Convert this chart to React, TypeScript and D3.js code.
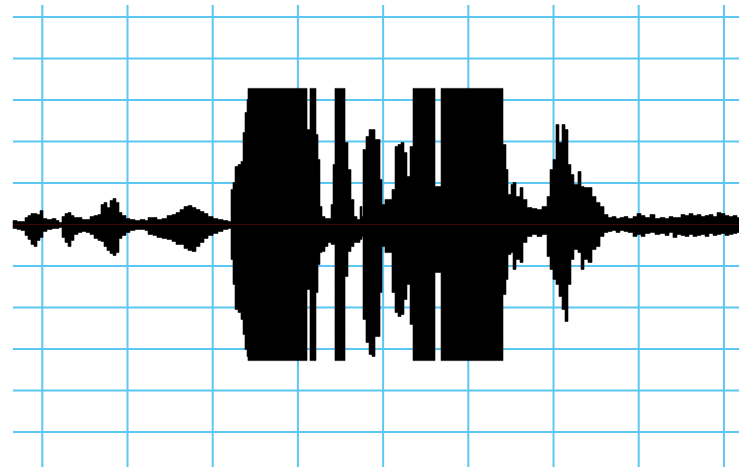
import React from 'react';
import * as d3 from 'd3';

// Sample times (ms) of envelope breakpoints
const timesMs = [
  -34.4, -29.7, -25.0, -20.3, -16.8, -13.3, -9.7, -6.2, -2.7, 0.8,
  5.5, 11.4, 16.1, 19.6, 23.1, 26.6, 30.2, 33.7, 37.2, 41.9,
  46.6, 51.3, 56.0, 60.7, 65.4, 68.9, 72.4, 75.9, 79.5, 83.0,
  86.5, 90.0, 93.5, 98.2, 102.9, 108.8, 114.7, 120.5, 124.1, 129.9,
  134.6, 140.5, 146.4, 152.2, 156.9, 161.6, 166.3, 171.0, 175.7, 180.4,
  185.1, 189.8, 194.5, 200.4, 206.2, 212.1, 218.0, 221.5, 223.8, 226.2,
  229.7, 233.2, 235.6, 237.9, 240.3, 241.4, 310.7, 314.2, 321.2, 323.6,
  325.9, 328.3, 331.8, 335.3, 338.9, 341.2, 343.5, 355.3, 358.8, 362.3,
  365.8, 369.4, 372.9, 375.2, 376.4, 379.9, 383.5, 387.0, 390.5, 396.4,
  398.7, 402.2, 406.9, 410.4, 414.0, 417.5, 421.0, 424.5, 428.0, 431.6,
  435.1, 460.9, 468.0, 540.7, 544.2, 546.6, 550.1, 552.5, 556.0, 560.7,
  564.2, 568.9, 574.8, 580.6, 586.5, 592.4, 595.9, 599.4, 602.9, 606.4,
  610.0, 613.5, 617.0, 620.5, 624.0, 628.7, 632.3, 635.8, 640.5, 645.2,
  649.9, 654.6, 659.3,
  664.0, 668.7, 673.4, 678.0, 682.7, 687.4, 693.3, 698.0, 702.7, 707.4,
  713.2, 719.1, 725.0, 730.9, 735.6, 740.2, 744.9, 749.6, 754.3, 759.0,
  763.7, 768.4, 773.1, 777.8, 782.5, 787.2, 791.9, 796.6, 801.3, 806.0,
  810.7, 815.4, 817.7,
];

// Positive peak envelope (normalized amplitude, clipped at 0.82)
const upperAmp = [
  0.024, 0.018, 0.018, 0.042, 0.054, 0.066, 0.066, 0.060, 0.084, 0.036,
  0.030, 0.036, 0.024, 0.012, 0.048, 0.066, 0.072, 0.054, 0.042, 0.042,
  0.030, 0.030, 0.048, 0.054, 0.060, 0.120, 0.133, 0.102, 0.145, 0.157,
  0.133, 0.072, 0.054, 0.036, 0.030, 0.024, 0.030, 0.024, 0.042, 0.042,
  0.030, 0.036, 0.054, 0.060, 0.072, 0.090, 0.108, 0.114, 0.102, 0.090,
  0.078, 0.066, 0.048, 0.036, 0.030, 0.024, 0.018, 0.211, 0.253, 0.349,
  0.361, 0.380, 0.554, 0.675, 0.753, 0.820, 0.572, 0.820, 0.542, 0.392,
  0.108, 0.048, 0.036, 0.036, 0.120, 0.361, 0.820, 0.494, 0.331, 0.151,
  0.048, 0.030, 0.108, 0.048, 0.452, 0.530, 0.572, 0.572, 0.512, 0.271,
  0.120, 0.151, 0.151, 0.211, 0.470, 0.482, 0.494, 0.434, 0.289, 0.470,
  0.820, 0.229, 0.820, 0.482, 0.331, 0.181, 0.241, 0.253, 0.169, 0.223,
  0.151, 0.102, 0.096, 0.090, 0.108, 0.169, 0.331, 0.392, 0.602, 0.494,
  0.602, 0.572, 0.361, 0.301, 0.241, 0.319, 0.229, 0.223, 0.223, 0.169,
  0.133, 0.108, 0.060,
  0.042, 0.048, 0.036, 0.042, 0.048, 0.036, 0.048, 0.066, 0.054, 0.042,
  0.060, 0.036, 0.042, 0.036, 0.048, 0.042, 0.042, 0.060, 0.054, 0.066,
  0.054, 0.060, 0.048, 0.054, 0.060, 0.048, 0.072, 0.066, 0.054, 0.048,
  0.054, 0.042, 0.042,
];

// Negative peak envelope (normalized amplitude, clipped at -0.82)
const lowerAmp = [
  -0.024, -0.030, -0.036, -0.066, -0.090, -0.120, -0.133, -0.096, -0.078, -0.042,
  -0.030, -0.024, -0.024, -0.018, -0.078, -0.108, -0.133, -0.096, -0.060, -0.048,
  -0.042, -0.048, -0.060, -0.084, -0.096, -0.102, -0.133, -0.157, -0.175, -0.187,
  -0.169, -0.084, -0.066, -0.048, -0.036, -0.030, -0.030, -0.036, -0.060, -0.066,
  -0.078, -0.084, -0.090, -0.102, -0.120, -0.120, -0.145, -0.157, -0.163, -0.133,
  -0.108, -0.084, -0.066, -0.054, -0.042, -0.030, -0.024, -0.211, -0.361, -0.512,
  -0.530, -0.572, -0.663, -0.753, -0.795, -0.820, -0.392, -0.820, -0.410, -0.241,
  -0.169, -0.163, -0.133, -0.108, -0.120, -0.120, -0.820, -0.313, -0.163, -0.133,
  -0.108, -0.108, -0.090, -0.072, -0.572, -0.711, -0.783, -0.795, -0.675, -0.410,
  -0.133, -0.169, -0.169, -0.410, -0.530, -0.554, -0.542, -0.452, -0.361, -0.602,
  -0.820, -0.289, -0.820, -0.422, -0.331, -0.181, -0.169, -0.271, -0.211, -0.229,
  -0.108, -0.072, -0.060, -0.072, -0.060, -0.193, -0.271, -0.331, -0.361, -0.434,
  -0.512, -0.584, -0.361, -0.211, -0.151, -0.169, -0.271, -0.211, -0.229, -0.151,
  -0.133, -0.072, -0.048,
  -0.042, -0.036, -0.048, -0.036, -0.042, -0.048, -0.072, -0.060, -0.072, -0.054,
  -0.048, -0.060, -0.054, -0.066, -0.048, -0.078, -0.060, -0.066, -0.072, -0.060,
  -0.072, -0.066, -0.060, -0.072, -0.054, -0.066, -0.060, -0.054, -0.066, -0.060,
  -0.054, -0.048, -0.048,
];

const timeGridMs = [0, 100, 200, 300, 400, 500, 600, 700, 800];
const ampGrid = [-1.25, -1.0, -0.75, -0.5, -0.25, 0, 0.25, 0.5, 0.75, 1.0, 1.25];

const W = 739;
const H = 467;
const GRID = '#5cc7f3';

export default function App() {
  const x = d3.scaleLinear().domain([-34.4, 817.7]).range([13, 739]);
  const y = d3.scaleLinear().domain([-1.25, 1.25]).range([432, 17]);

  const data = timesMs.map((t, i) => ({ t, hi: upperAmp[i], lo: lowerAmp[i] }));
  const area = d3
    .area<{ t: number; hi: number; lo: number }>()
    .x((d) => x(d.t))
    .y0((d) => y(d.lo))
    .y1((d) => y(d.hi))
    .curve(d3.curveStepAfter);

  const [x0, x1] = x.range();
  const gridTop = y(1.25) - 12;

  return (
    <svg
      width={W}
      height={H}
      style={{ position: 'absolute', left: 0, top: 0, background: '#fff' }}
    >
      <rect x={0} y={0} width={W} height={H} fill="#fff" />
      <g>
        {ampGrid.map((a) => (
          <line
            key={'h' + a}
            x1={x0}
            x2={x1}
            y1={y(a)}
            y2={y(a)}
            stroke={GRID}
            strokeWidth={2}
          />
        ))}
        {timeGridMs.map((t) => (
          <line
            key={'v' + t}
            x1={x(t)}
            x2={x(t)}
            y1={gridTop}
            y2={H}
            stroke={GRID}
            strokeWidth={2}
          />
        ))}
      </g>
      <path d={area(data) || ''} fill="#000" stroke="#000" strokeWidth={0.6} />
      <line
        x1={x0}
        x2={x1}
        y1={y(0)}
        y2={y(0)}
        stroke="#3d0606"
        strokeWidth={1.2}
      />
    </svg>
  );
}
